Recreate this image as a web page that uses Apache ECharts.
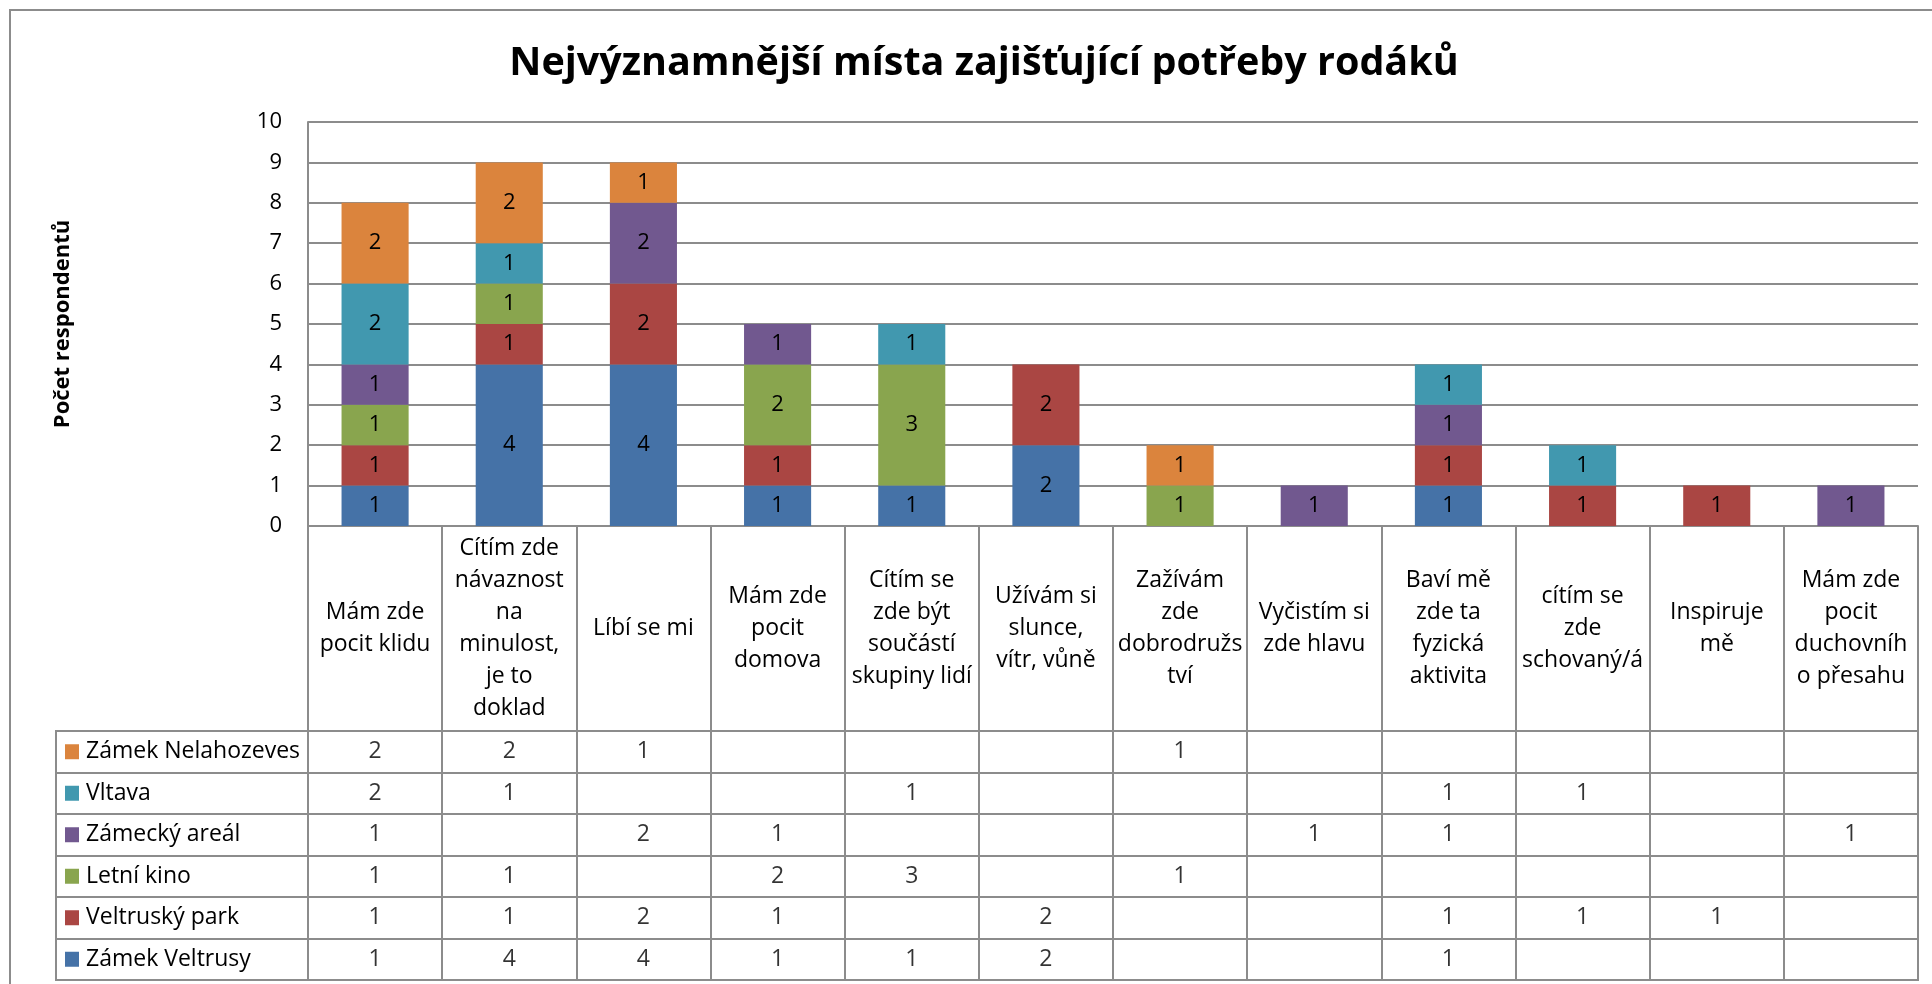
<!DOCTYPE html>
<html>
<head>
<meta charset="utf-8">
<title>Nejvýznamnější místa zajišťující potřeby rodáků</title>
<script src="https://cdn.jsdelivr.net/npm/echarts@6/dist/echarts.min.js"></script>
<style>
  html, body { margin: 0; padding: 0; background: #fff; }
  #chart { width: 1932px; height: 984px; }
</style>
</head>
<body>
<div id="chart"></div>
<script>
// kategorie (zalomení řádků jako v originále)
var categories = [
  'Mám zde\npocit klidu',
  'Cítím zde\nnávaznost\nna\nminulost,\nje to\ndoklad',
  'Líbí se mi',
  'Mám zde\npocit\ndomova',
  'Cítím se\nzde být\nsoučástí\nskupiny lidí',
  'Užívám si\nslunce,\nvítr, vůně',
  'Zažívám\nzde\ndobrodružs\ntví',
  'Vyčistím si\nzde hlavu',
  'Baví mě\nzde ta\nfyzická\naktivita',
  'cítím se\nzde\nschovaný/á',
  'Inspiruje\nmě',
  'Mám zde\npocit\nduchovníh\no přesahu'
]

// hodnoty po místech
var zamekVeltrusy    = [1, 4, 4, 1, 1, 2, null, null, 1, null, null, null]
var veltruskyPark    = [1, 1, 2, 1, null, 2, null, null, 1, 1, 1, null]
var letniKino        = [1, 1, null, 2, 3, null, 1, null, null, null, null, null]
var zameckyAreal     = [1, null, 2, 1, null, null, null, 1, 1, null, null, 1]
var vltava           = [2, 1, null, null, 1, null, null, null, 1, 1, null, null]
var zamekNelahozeves = [2, 2, 1, null, null, null, 1, null, null, null, null, null]

var seriesNames = ['Zámek Veltrusy', 'Veltruský park', 'Letní kino', 'Zámecký areál', 'Vltava', 'Zámek Nelahozeves']
var seriesValues = [zamekVeltrusy, veltruskyPark, letniKino, zameckyAreal, vltava, zamekNelahozeves]
var colors = ['#4572A7', '#AA4643', '#89A54E', '#71588F', '#4198AF', '#DB843D']

var yTicks = [0, 10, 1] // min, max, interval

var FONT = '"Open Sans", Lato, sans-serif'
var LINE = '#8c8c8c'

var chart = echarts.init(document.getElementById('chart'))

// buňky tabulky
var cells = []
seriesValues.forEach(function (arr, row) {
  arr.forEach(function (v, col) {
    if (v != null) cells.push([col, row, v])
  })
})

var rich = { t: { fontSize: 23, fontFamily: FONT, color: '#000', padding: [0, 0, 0, 7] } }
colors.forEach(function (c, i) {
  rich['s' + i] = { width: 14, height: 15, backgroundColor: c }
})

var series = seriesNames.map(function (name, i) {
  return {
    name: name,
    type: 'bar',
    stack: 'total',
    xAxisIndex: 0,
    yAxisIndex: 0,
    barWidth: '50%',
    data: seriesValues[i],
    itemStyle: { color: colors[i] },
    label: {
      show: true,
      position: 'inside',
      color: '#000',
      fontSize: 22,
      fontFamily: FONT
    }
  }
})

series.push({
  type: 'scatter',
  xAxisIndex: 1,
  yAxisIndex: 1,
  symbolSize: 0,
  silent: true,
  data: cells,
  label: {
    show: true,
    position: 'inside',
    color: '#000',
    fontSize: 23,
    fontFamily: FONT,
    formatter: function (p) { return p.value[2] }
  }
})

var option = {
  animation: false,
  backgroundColor: '#fff',
  textStyle: { fontFamily: FONT },
  title: {
    text: 'Nejvýznamnější místa zajišťující potřeby rodáků',
    left: 979,
    textAlign: 'center',
    top: 39,
    textStyle: { fontSize: 39.5, fontWeight: 'bold', color: '#000', fontFamily: FONT }
  },
  graphic: [{
    type: 'rect',
    shape: { x: 10, y: 10, width: 1960, height: 1000 },
    style: { fill: 'none', stroke: LINE, lineWidth: 2 },
    silent: true
  }],
  grid: [
    { left: 308, right: 14, top: 122, height: 404 },
    { left: 308, right: 14, top: 731, height: 249, show: true, borderColor: LINE, borderWidth: 2 },
    { left: 56, width: 252, top: 731, height: 249, show: true, borderColor: LINE, borderWidth: 2 }
  ],
  xAxis: [
    {
      gridIndex: 0,
      type: 'category',
      data: categories,
      axisLine: { show: true, lineStyle: { color: LINE, width: 2 } },
      axisTick: { show: true, interval: 0, length: 205, lineStyle: { color: LINE, width: 2 } },
      axisLabel: {
        interval: 0,
        margin: 102,
        verticalAlign: 'middle',
        lineHeight: 32,
        fontSize: 23,
        color: '#000',
        fontFamily: FONT,
        align: 'center'
      }
    },
    {
      gridIndex: 1,
      type: 'category',
      data: categories,
      axisLine: { show: false },
      axisTick: { show: false },
      axisLabel: { show: false },
      splitLine: { show: true, interval: 0, lineStyle: { color: LINE, width: 2 } }
    },
    { gridIndex: 2, type: 'value', show: false }
  ],
  yAxis: [
    {
      gridIndex: 0,
      type: 'value',
      min: yTicks[0],
      max: yTicks[1],
      interval: yTicks[2],
      name: 'Počet respondentů',
      nameLocation: 'middle',
      nameRotate: 90,
      nameGap: 234,
      nameTextStyle: { fontSize: 22, fontWeight: 'bold', color: '#000', fontFamily: FONT },
      axisLine: { show: true, lineStyle: { color: LINE, width: 2 } },
      axisTick: { show: false },
      axisLabel: { fontSize: 22, color: '#000', margin: 26, fontFamily: FONT },
      splitLine: { show: true, lineStyle: { color: LINE, width: 2 } }
    },
    {
      gridIndex: 1,
      type: 'category',
      data: seriesNames,
      axisLine: { show: false },
      axisTick: { show: false },
      axisLabel: { show: false },
      splitLine: { show: true, interval: 0, lineStyle: { color: LINE, width: 2 } }
    },
    {
      gridIndex: 2,
      type: 'category',
      data: seriesNames,
      axisLine: { show: false },
      axisTick: { show: false },
      splitLine: { show: true, interval: 0, lineStyle: { color: LINE, width: 2 } },
      axisLabel: {
        inside: true,
        margin: 9,
        align: 'left',
        formatter: function (v, i) { return '{s' + i + '|}{t|' + v + '}' },
        rich: rich
      }
    }
  ],
  series: series
}

chart.setOption(option)
</script>
</body>
</html>
